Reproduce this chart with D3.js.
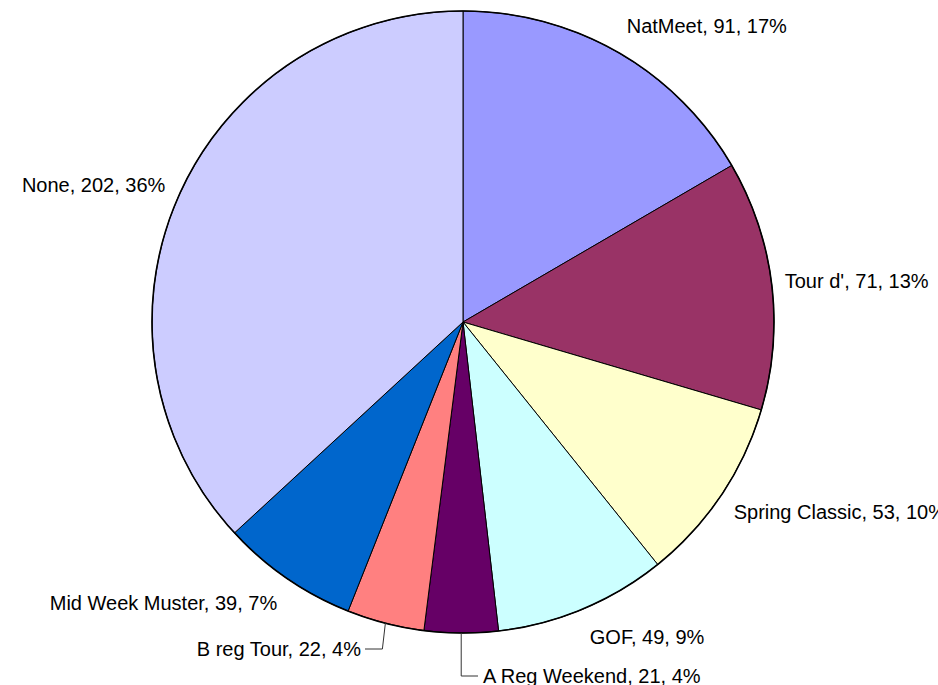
<!DOCTYPE html>
<html>
<head>
<meta charset="utf-8">
<script src="https://cdn.jsdelivr.net/npm/d3@7"></script>
<style>
  body { margin: 0; background: #fff; }
  svg { display: block; }
</style>
</head>
<body>
<div id="chart"></div>
<script>
// slice data, clockwise from 12 o'clock
const categories = ["NatMeet", "Tour d'", "Spring Classic", "GOF", "A Reg Weekend", "B reg Tour", "Mid Week Muster", "None"]
const counts = [91, 71, 53, 49, 21, 22, 39, 202]
const percentLabels = ["17%", "13%", "10%", "9%", "4%", "4%", "7%", "36%"]
const colors = ["#9999FF", "#993366", "#FFFFCC", "#CCFFFF", "#660066", "#FF8080", "#0066CC", "#CCCCFF"]

const width = 938, height = 685
const cx = 463, cy = 322, radius = 311
const fontSize = 20, labelPad = 19

// labels that were dragged off their default spot (leader line drawn)
const movedLabels = {
   "A Reg Weekend": { x: 483, y: 676, anchor: "start" },
   "B reg Tour": { x: 361, y: 649, anchor: "end" }
}

const data = categories.map((c, i) => ({ name: c, count: counts[i], pct: percentLabels[i], color: colors[i] }))

const pie = d3.pie().sort(null).value(d => d.count)
const arcs = pie(data)

const arc = d3.arc().innerRadius(0).outerRadius(radius)

const svg = d3.select("#chart").append("svg")
   .attr("width", width)
   .attr("height", height)

const g = svg.append("g").attr("transform", `translate(${cx},${cy})`)

g.selectAll("path")
   .data(arcs)
   .join("path")
   .attr("d", arc)
   .attr("fill", d => d.data.color)
   .attr("stroke", "#000")
   .attr("stroke-width", 1)

// outer rim is a bit heavier in the original
g.append("circle")
   .attr("r", radius)
   .attr("fill", "none")
   .attr("stroke", "#000")
   .attr("stroke-width", 1.6)

function labelPos(d) {
   const a = (d.startAngle + d.endAngle) / 2
   const s = Math.sin(a), c = Math.cos(a)
   const r = radius + labelPad
   // labels on the sides sit a little tighter to the rim
   const px = r * s - 6 * s * s * s, py = -r * c
   return {
      x: px,
      y: py - c * (fontSize * 1.15) / 2,
      anchor: s >= 0 ? "start" : "end"
   }
}

// leader lines for moved labels
arcs.forEach(d => {
   const m = movedLabels[d.data.name]
   if (!m) return
   const a = (d.startAngle + d.endAngle) / 2
   const ax = radius * Math.sin(a), ay = -radius * Math.cos(a)
   const lx = m.x - cx, ly = m.y - cy
   const endX = m.anchor === "start" ? lx - 5 : lx + 4
   g.append("polyline")
      .attr("points", [[ax, ay], [ax - (m.anchor === "end" ? 3 : 0), ly], [endX, ly]].map(p => p.join(",")).join(" "))
      .attr("fill", "none")
      .attr("stroke", "#333")
      .attr("stroke-width", 1)
})

g.append("g")
   .attr("font-family", "Liberation Sans, Arial, sans-serif")
   .attr("font-size", fontSize)
   .attr("fill", "#000")
   .selectAll("text")
   .data(arcs)
   .join("text")
   .each(function (d) {
      const m = movedLabels[d.data.name]
      const p = m ? { x: m.x - cx, y: m.y - cy, anchor: m.anchor } : labelPos(d)
      d3.select(this)
         .attr("x", p.x)
         .attr("y", p.y)
         .attr("dy", "0.35em")
         .attr("text-anchor", p.anchor)
   })
   .text(d => `${d.data.name}, ${d.data.count}, ${d.data.pct}`)
</script>
</body>
</html>
